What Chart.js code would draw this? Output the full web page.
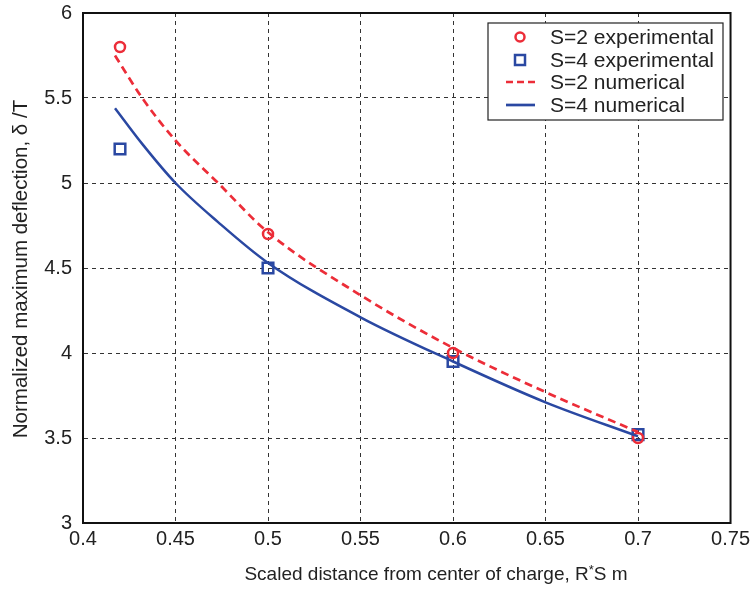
<!DOCTYPE html>
<html>
<head>
<meta charset="utf-8">
<script src="https://cdn.jsdelivr.net/npm/chart.js@4/dist/chart.umd.min.js"></script>
<style>
  html, body { margin: 0; padding: 0; background: #fff; }
  #wrap { width: 754px; height: 590px; }
</style>
</head>
<body>
<div id="wrap"><canvas id="chart"></canvas></div>
<script>
// measured points
const expX = [0.42, 0.5, 0.6, 0.7];
const s2Exp = [5.8, 4.7, 4.0, 3.5];
const s4Exp = [5.2, 4.5, 3.95, 3.52];

// numerical curves
const numX = [0.4173, 0.432, 0.45, 0.473, 0.5, 0.55, 0.6, 0.65, 0.7];
const s2Num = [5.75, 5.5, 5.25, 5.0, 4.71, 4.34, 4.03, 3.77, 3.535];
const s4Num = [5.44, 5.23, 5.0, 4.77, 4.53, 4.21, 3.95, 3.71, 3.51];

const seriesNames = ['S=2 experimental', 'S=4 experimental', 'S=2 numerical', 'S=4 numerical'];
const xTitle = ['Scaled distance from center of charge, R', '*', 'S m'];
const yTitle = 'Normalized maximum deflection, \u03b4 /T';

const RED = 'rgb(236, 45, 56)';
const BLUE = 'rgb(42, 72, 162)';
const TEXT = '#222';
const FONT = 'Liberation Sans, Arial, sans-serif';

function pts(xs, ys) {
    return xs.map((x, i) => ({ x: x, y: ys[i] }));
}

// frame, axis titles and legend drawn after the data
const framePlugin = {
    id: 'frame',
    afterDraw(chart) {
        const { ctx, chartArea: a } = chart;
        ctx.save();
        ctx.strokeStyle = '#111';
        ctx.lineWidth = 2;
        ctx.strokeRect(a.left, a.top, a.right - a.left, a.bottom - a.top);

        // x title with superscript asterisk
        ctx.fillStyle = TEXT;
        ctx.textBaseline = 'alphabetic';
        ctx.textAlign = 'left';
        const big = '19px ' + FONT, small = '13px ' + FONT;
        ctx.font = big;
        const w0 = ctx.measureText(xTitle[0]).width;
        const w2 = ctx.measureText(xTitle[2]).width;
        ctx.font = small;
        const w1 = ctx.measureText(xTitle[1]).width;
        let tx = 436 - (w0 + w1 + w2) / 2;
        const ty = 580;
        ctx.font = big;
        ctx.fillText(xTitle[0], tx, ty);
        ctx.font = small;
        ctx.fillText(xTitle[1], tx + w0, ty - 6);
        ctx.font = big;
        ctx.fillText(xTitle[2], tx + w0 + w1, ty);

        // y title
        ctx.save();
        ctx.translate(21, 269);
        ctx.rotate(-Math.PI / 2);
        ctx.textAlign = 'center';
        ctx.textBaseline = 'middle';
        ctx.font = '20.5px ' + FONT;
        ctx.fillText(yTitle, 0, 0);
        ctx.restore();

        // legend box
        const bx = 488, by = 23, bw = 235, bh = 97;
        ctx.fillStyle = '#fff';
        ctx.fillRect(bx, by, bw, bh);
        ctx.lineWidth = 1.2;
        ctx.strokeStyle = '#222';
        ctx.strokeRect(bx, by, bw, bh);

        ctx.font = '21px ' + FONT;
        ctx.textBaseline = 'middle';
        ctx.textAlign = 'left';
        const rows = [37, 60, 82, 105];
        rows.forEach((y, i) => {
            const mx = 520;
            ctx.setLineDash([]);
            if (i === 0) {
                ctx.strokeStyle = RED; ctx.lineWidth = 2.5;
                ctx.beginPath(); ctx.arc(mx, y, 4.5, 0, Math.PI * 2); ctx.stroke();
            } else if (i === 1) {
                ctx.strokeStyle = BLUE; ctx.lineWidth = 2.5;
                ctx.strokeRect(mx - 5, y - 5, 10, 10);
            } else if (i === 2) {
                ctx.strokeStyle = RED; ctx.lineWidth = 2.7;
                ctx.setLineDash([7, 4]);
                ctx.beginPath(); ctx.moveTo(506, y); ctx.lineTo(535, y); ctx.stroke();
            } else {
                ctx.strokeStyle = BLUE; ctx.lineWidth = 2.7;
                ctx.beginPath(); ctx.moveTo(506, y); ctx.lineTo(535, y); ctx.stroke();
            }
            ctx.setLineDash([]);
            ctx.fillStyle = TEXT;
            ctx.fillText(seriesNames[i], 550, y + 1);
        });
        ctx.restore();
    }
};

new Chart(document.getElementById('chart'), {
    type: 'scatter',
    data: {
        datasets: [
            {
                label: seriesNames[0],
                data: pts(expX, s2Exp),
                showLine: false,
                pointStyle: 'circle',
                pointRadius: 5,
                pointBorderWidth: 2.5,
                pointBorderColor: RED,
                pointBackgroundColor: 'rgba(0,0,0,0)',
                order: 2
            },
            {
                label: seriesNames[1],
                data: pts(expX, s4Exp),
                showLine: false,
                pointStyle: 'rect',
                pointRadius: 7.5,
                pointBorderWidth: 2.5,
                pointBorderColor: BLUE,
                pointBackgroundColor: 'rgba(0,0,0,0)',
                order: 2
            },
            {
                label: seriesNames[2],
                data: pts(numX, s2Num),
                showLine: true,
                pointRadius: 0,
                borderColor: RED,
                borderWidth: 2.7,
                borderDash: [8, 5],
                cubicInterpolationMode: 'monotone',
                order: 1
            },
            {
                label: seriesNames[3],
                data: pts(numX, s4Num),
                showLine: true,
                pointRadius: 0,
                borderColor: BLUE,
                borderWidth: 2.5,
                cubicInterpolationMode: 'monotone',
                order: 1
            }
        ]
    },
    options: {
        responsive: true,
        maintainAspectRatio: false,
        animation: false,
        layout: { padding: { left: 0, top: 13, right: 23, bottom: 0 } },
        plugins: {
            legend: { display: false },
            tooltip: { enabled: false }
        },
        scales: {
            x: {
                type: 'linear',
                min: 0.4,
                max: 0.75,
                afterFit: s => { s.height = 67; },
                ticks: {
                    stepSize: 0.05,
                    padding: 4,
                    color: TEXT,
                    font: { family: FONT, size: 20 },
                    callback: v => String(parseFloat(v.toFixed(2)))
                },
                grid: {
                    color: '#333',
                    lineWidth: 1,
                    drawTicks: false
                },
                border: { display: true, color: '#111', width: 2, dash: [4, 4] },
                title: { display: false }
            },
            y: {
                type: 'linear',
                min: 3,
                max: 6,
                afterFit: s => { s.width = 83; s.paddingTop = 0; s.paddingBottom = 0; },
                ticks: {
                    stepSize: 0.5,
                    padding: 11,
                    color: TEXT,
                    font: { family: FONT, size: 20 },
                    callback: v => String(parseFloat(v.toFixed(1)))
                },
                grid: {
                    color: '#333',
                    lineWidth: 1,
                    drawTicks: false
                },
                border: { display: true, color: '#111', width: 2, dash: [4, 4] },
                title: { display: false }
            }
        }
    },
    plugins: [framePlugin]
});
</script>
</body>
</html>
